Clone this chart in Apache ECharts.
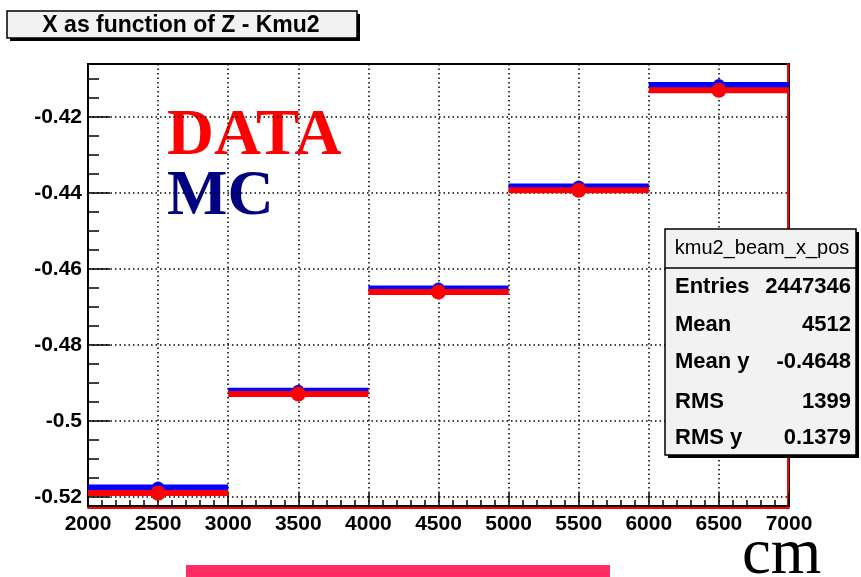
<!DOCTYPE html>
<html>
<head>
<meta charset="utf-8">
<script src="https://cdn.jsdelivr.net/npm/echarts@6/dist/echarts.min.js"></script>
<style>
html,body{margin:0;padding:0;background:#fff;}
#c{width:861px;height:577px;}
</style>
</head>
<body>
<div id="c"></div>
<script>
// ---- data ----
const binCenters = [2500, 3500, 4500, 5500, 6500];
const binHalfWidth = [500, 500, 500, 500, 500];
const mcValues   = [-0.5175, -0.4921, -0.4652, -0.4383, -0.4116];
const dataValues = [-0.5190, -0.4929, -0.4661, -0.4393, -0.4130];
const yMajorTicks = [-0.52, -0.50, -0.48, -0.46, -0.44, -0.42];
const yMinorTicks = [-0.52,-0.515,-0.51,-0.505,-0.50,-0.495,-0.49,-0.485,-0.48,-0.475,-0.47,-0.465,-0.46,-0.455,-0.45,-0.445,-0.44,-0.435,-0.43,-0.425,-0.42,-0.415,-0.41];
const xMin = 2000, xMax = 7000, xStep = 500;
const yMin = -0.5224, yMax = -0.4061;
const titleText = 'X as function of Z - Kmu2';
const statsName = 'kmu2_beam_x_pos';
const statsLabels = ['Entries', 'Mean', 'Mean y', 'RMS', 'RMS y'];
const statsValues = ['2447346', '4512', '-0.4648', '1399', '0.1379'];
const legendData = 'DATA', legendMC = 'MC', unitText = 'cm';

const chart = echarts.init(document.getElementById('c'), null, {renderer: 'canvas'});

function makeSeries(name, values, color, r) {
  return {
    name: name, type: 'custom', clip: false, z: name === 'DATA' ? 5 : 4,
    data: binCenters.map((x, i) => [x, values[i], binHalfWidth[i]]),
    renderItem: function (params, api) {
      const x = api.value(0), y = api.value(1), ex = api.value(2);
      const p0 = api.coord([x - ex, y]), p1 = api.coord([x + ex, y]), pc = api.coord([x, y]);
      return {type: 'group', children: [
        {type: 'line', shape: {x1: p0[0], y1: p0[1], x2: p1[0], y2: p1[1]}, style: {stroke: color, lineWidth: 6}},
        {type: 'circle', shape: {cx: pc[0], cy: pc[1], r: r}, style: {fill: color}}
      ]};
    }
  };
}

const labelFont = {fontFamily: 'Liberation Sans', fontWeight: 'bold', fontSize: 21, color: '#000'};

const rowY = [287, 325, 362, 402, 438];
const statsTexts = [];
statsLabels.forEach((l, i) => {
  statsTexts.push({type: 'text', x: 675, y: rowY[i], z: 20, style: {text: l, font: 'bold 22px "Liberation Sans"', fill: '#000', verticalAlign: 'middle', align: 'left'}});
  statsTexts.push({type: 'text', x: 851, y: rowY[i], z: 20, style: {text: statsValues[i], font: 'bold 22px "Liberation Sans"', fill: '#000', verticalAlign: 'middle', align: 'right'}});
});

const option = {
  animation: false,
  backgroundColor: '#fff',
  grid: {left: 88, right: 72, top: 64, bottom: 71, show: true, borderColor: '#000', borderWidth: 2, backgroundColor: 'transparent'},
  xAxis: [{
    type: 'value', min: xMin, max: xMax, interval: xStep,
    axisLine: {show: true, onZero: false, lineStyle: {color: '#000', width: 2}},
    axisTick: {show: true, inside: true, length: 13, lineStyle: {color: '#000', width: 1.5}},
    minorTick: {show: true, splitNumber: 5, length: 6, lineStyle: {color: '#000', width: 1.5}},
    axisLabel: Object.assign({margin: 8, showMinLabel: true, showMaxLabel: true, formatter: v => String(v)}, labelFont),
    splitLine: {show: true, lineStyle: {color: '#000', width: 1.5, type: [1.5, 3]}}
  }, {
    type: 'value', min: xMin, max: xMax, position: 'bottom', offset: 2,
    axisLine: {show: true, onZero: false, lineStyle: {color: '#ff0000', width: 2}},
    axisTick: {show: false}, axisLabel: {show: false}, splitLine: {show: false}
  }],
  yAxis: [{
    type: 'value', min: yMin, max: yMax, position: 'left',
    axisLine: {show: true, onZero: false, lineStyle: {color: '#000', width: 2}},
    axisTick: {show: true, inside: true, length: 22, customValues: yMajorTicks, lineStyle: {color: '#000', width: 1.5}},
    axisLabel: Object.assign({margin: 6, customValues: yMajorTicks}, labelFont),
    splitLine: {show: false}
  }, {
    type: 'value', min: yMin, max: yMax, position: 'left',
    axisLine: {show: false},
    axisTick: {show: true, inside: true, length: 11, customValues: yMinorTicks, lineStyle: {color: '#000', width: 1.5}},
    axisLabel: {show: false, customValues: yMinorTicks},
    splitLine: {show: false}
  }, {
    type: 'value', min: yMin, max: yMax, position: 'right', offset: -1,
    axisLine: {show: true, onZero: false, lineStyle: {color: '#ff0000', width: 2}},
    axisTick: {show: false}, axisLabel: {show: false}, splitLine: {show: false}
  }],
  series: [
    {
      type: 'line', data: [], silent: true,
      markLine: {
        silent: true, symbol: 'none', label: {show: false}, animation: false,
        lineStyle: {color: '#000', width: 1.5, type: [1.5, 3]},
        data: yMajorTicks.map(v => ({yAxis: v}))
      }
    },
    makeSeries('MC', mcValues, '#0000ff', 6),
    makeSeries('DATA', dataValues, '#ff0000', 7.5)
  ],
  graphic: [
    // title box
    {type: 'rect', x: 10, y: 14, shape: {width: 350, height: 27}, style: {fill: '#000'}},
    {type: 'rect', x: 7, y: 11, shape: {width: 350, height: 27}, style: {fill: '#f2f2f2', stroke: '#000', lineWidth: 1.5}},
    {type: 'text', x: 181, y: 26, style: {text: titleText, font: 'bold 23px "Liberation Sans"', fill: '#000', align: 'center', verticalAlign: 'middle'}},
    // stats box
    {type: 'rect', x: 668, y: 232, z: 10, shape: {width: 191, height: 226}, style: {fill: '#000'}},
    {type: 'rect', x: 665, y: 229, z: 11, shape: {width: 191, height: 226}, style: {fill: '#f2f2f2', stroke: '#000', lineWidth: 1.5}},
    {type: 'line', z: 12, shape: {x1: 665, y1: 268, x2: 856, y2: 268}, style: {stroke: '#000', lineWidth: 1.5}},
    {type: 'text', x: 762, y: 248, z: 20, style: {text: statsName, font: '20px "Liberation Sans"', fill: '#000', align: 'center', verticalAlign: 'middle'}}
  ].concat(statsTexts).concat([
    // legend texts
    {type: 'text', x: 167, y: 105, style: {text: legendData, font: 'bold 65px "Liberation Serif"', fill: '#ff0000', verticalAlign: 'top'}},
    {type: 'text', x: 167, y: 165, style: {text: legendMC, font: 'bold 64px "Liberation Serif"', fill: '#000080', verticalAlign: 'top'}},
    // unit
    {type: 'text', x: 742, y: 523, style: {text: unitText, font: '65px "Liberation Serif"', fill: '#000', verticalAlign: 'top'}},
    // pink bar
    {type: 'rect', x: 186, y: 565, shape: {width: 424, height: 12}, style: {fill: '#ff2d63'}}
  ])
};
chart.setOption(option);
</script>
</body>
</html>
